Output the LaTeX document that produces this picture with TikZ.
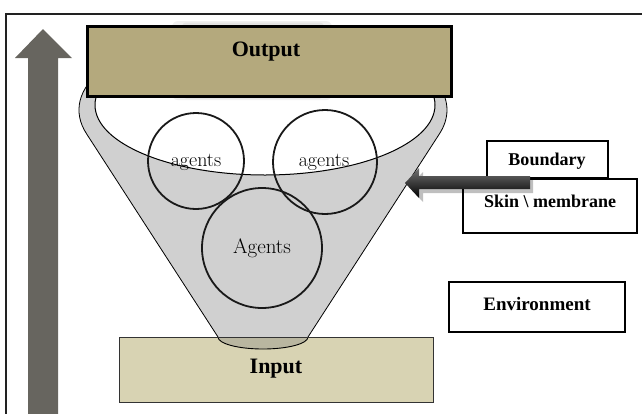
\documentclass[tikz,border=0pt]{standalone}
\usepackage{fontspec}
\newfontfamily\lblfont{Liberation Serif}
\definecolor{framecol}{HTML}{222222}
\definecolor{arrowgray}{HTML}{67655F}
\definecolor{funnelgray}{HTML}{D0D0D0}
\definecolor{outfill}{HTML}{B4A97D}
\definecolor{infill}{HTML}{D8D3B3}
\definecolor{lensfill}{HTML}{B9B6A0}
\begin{document}
\begin{tikzpicture}[x=1pt,y=-1pt,
  sidebox/.style={draw=black, line width=2pt, fill=white, inner sep=0pt},
  boldlbl/.style={font=\lblfont\bfseries\fontsize{#1}{#1}\selectfont, inner sep=0pt},
  agentcircle/.style={draw=black!90, line width=1.8pt, circle, minimum size=#1, inner sep=0pt},
  agentlbl/.style={font=\fontsize{#1}{#1}\selectfont, inner sep=0pt},
]
\useasboundingbox (0,0) rectangle (642,413);
\clip (0,0) rectangle (642,413);
% frame
\draw[line width=2pt, framecol] (6,430) -- (6,14) -- (660,14);
% big upward arrow
\fill[arrowgray] (28,430) -- (28,58) -- (15,58) -- (43,29) -- (72,58) -- (58,58) -- (58,430) -- cycle;
% funnel body
\draw[fill=funnelgray, line width=0.8pt]
  ([shift={(263,110)}]163.5:184 and 84)
  arc[start angle=163.5, end angle=376.5, x radius=184, y radius=84]
  -- (308,337)
  arc[start angle=0, end angle=180, x radius=45, y radius=12]
  -- cycle;
% funnel opening
\draw[fill=white, line width=1pt] (265,105) ellipse [x radius=170, y radius=70];
% input box
\node[draw=black!80, line width=1pt, fill=infill, minimum width=314pt, minimum height=65pt, anchor=north west, inner sep=0pt] (inbox) at (119,337) {};
\fill[lensfill] (308,337) arc[start angle=0, end angle=180, x radius=45, y radius=12] -- cycle;
\draw[line width=0.9pt] (308,337) arc[start angle=0, end angle=180, x radius=45, y radius=12];
\draw[line width=1pt, black!80] (inbox.north west) -- (inbox.north east);
\node[boldlbl=22] (intext) at (276,369) {Input};
% agents
\node[agentcircle=96pt] (a1) at (196,161) {};
\node[agentcircle=104pt] (a2) at (325,162) {};
\node[agentcircle=120pt] (a3) at (262,248) {};
\node[agentlbl=20] at (196,162) {agents};
\node[agentlbl=20] at (324,162) {agents};
\node[agentlbl=21] at (262,248) {Agents};
% output box with soft shadow
\fill[black!6, rounded corners=6pt] (172,21) rectangle (332,100);
\fill[black!11, rounded corners=4pt] (182,22.5) rectangle (324,98.5);
\node[draw=black, line width=2.5pt, fill=outfill, minimum width=364pt, minimum height=70pt, anchor=north west, inner sep=0pt] (outbox) at (86,25) {};
\node[boldlbl=22] (outtext) at (266,52) {Output};
% side boxes
\node[sidebox, minimum width=121pt, minimum height=37pt] (boundary) at (547.5,159.5) {};
\node[boldlbl=18] at (547,161) {Boundary};
\node[sidebox, minimum width=174pt, minimum height=54pt] (skin) at (550,206) {};
\node[boldlbl=18] at (550,201) {Skin \textbackslash\ membrane};
\node[sidebox, minimum width=176pt, minimum height=50pt] (env) at (537,307) {};
\node[boldlbl=19] at (537,304) {Environment};
% side arrow
\coordinate (tail) at (530,182.5);
\coordinate (tip) at (405,183);
\fill[black, opacity=0.25] (533,180) -- (423,180) -- (423,172) -- (409,187) -- (423,202) -- (423,193) -- (533,193) -- cycle;
\shade[top color=black!55, bottom color=black]
  (tail |- 0,176) -- (419,176) -- (419,168) -- (tip) -- (419,198) -- (419,189) -- (tail |- 0,189) -- cycle;
\end{tikzpicture}
\end{document}
